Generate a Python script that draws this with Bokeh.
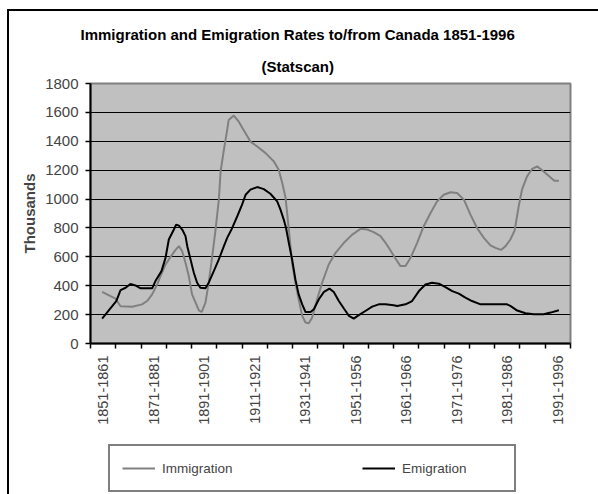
import math
from bokeh.plotting import figure
from bokeh.layouts import column
from bokeh.models import (Range1d, FixedTicker, Title, Legend, LegendItem,
                          InlineStyleSheet, ColumnDataSource)
from bokeh.embed import file_html
from bokeh.resources import INLINE

# ---- data ----
categories = ["1851-1861", "1861-1871", "1871-1881", "1881-1891", "1891-1901",
              "1901-1911", "1911-1921", "1921-1931", "1931-1941", "1941-1951",
              "1951-1956", "1956-1961", "1961-1966", "1966-1971", "1971-1976",
              "1976-1981", "1981-1986", "1986-1991", "1991-1996"]

# positions are measured in category widths from the left edge of the axis
immigration_pos = [0.46, 0.99, 1.19, 1.65, 2.04, 2.24, 2.44, 2.64, 2.77, 2.97, 3.17, 3.36,
                   3.50, 3.63, 3.76, 3.89, 4.02, 4.16, 4.29, 4.40, 4.55, 4.68, 4.82, 4.95,
                   5.08, 5.15, 5.28, 5.41, 5.47, 5.67, 5.87, 6.02, 6.33, 6.60, 6.93, 7.26,
                   7.45, 7.59, 7.72, 7.85, 7.98, 8.11, 8.24, 8.38, 8.51, 8.64, 8.77, 8.97,
                   9.17, 9.43, 9.70, 10.03, 10.36, 10.69, 10.95, 11.21, 11.48, 11.68, 11.87,
                   12.07, 12.27, 12.47, 12.67, 12.93, 13.19, 13.46, 13.72, 13.98, 14.25,
                   14.51, 14.78, 15.04, 15.30, 15.57, 15.83, 16.03, 16.25, 16.43, 16.62,
                   16.79, 16.95, 17.08, 17.28, 17.48, 17.68, 17.94, 18.21, 18.36, 18.54]
immigration_thousands = [357, 310, 258, 255, 271, 294, 340, 409, 467, 547, 600, 646,
                         674, 639, 559, 467, 340, 283, 230, 218, 283, 421, 605, 789,
                         996, 1191, 1341, 1479, 1548, 1578, 1536, 1490, 1398, 1364, 1318, 1260,
                         1203, 1111, 1010, 790, 559, 421, 306, 191, 145, 140, 179, 306,
                         421, 547, 628, 697, 754, 794, 789, 771, 743, 697, 645,
                         588, 536, 536, 593, 697, 812, 904, 984, 1030, 1047,
                         1042, 996, 892, 800, 731, 679, 662, 648, 674, 720,
                         783, 950, 1065, 1157, 1208, 1226, 1191, 1150, 1127, 1127]

emigration_pos = [0.46, 1.02, 1.19, 1.39, 1.58, 1.78, 1.98, 2.44, 2.57, 2.81, 2.97, 3.10,
                  3.30, 3.39, 3.50, 3.63, 3.76, 3.83, 3.96, 4.09, 4.22, 4.35, 4.55, 4.68,
                  4.88, 5.08, 5.28, 5.41, 5.61, 5.81, 6.00, 6.14, 6.33, 6.60, 6.86, 7.12,
                  7.39, 7.52, 7.65, 7.74, 7.85, 7.98, 8.11, 8.24, 8.38, 8.51, 8.71, 8.84,
                  9.04, 9.24, 9.46, 9.63, 9.83, 10.03, 10.23, 10.42, 10.62, 10.88, 11.15,
                  11.41, 11.68, 12.00, 12.14, 12.47, 12.73, 13.00, 13.26, 13.52, 13.79,
                  14.05, 14.32, 14.58, 14.84, 15.10, 15.44, 15.83, 16.23, 16.49, 16.62,
                  16.89, 17.22, 17.55, 17.94, 18.21, 18.54]
emigration_thousands = [172, 294, 370, 386, 412, 402, 382, 382, 432, 501, 593, 720,
                        789, 823, 816, 789, 743, 674, 582, 490, 421, 386, 382, 421,
                        501, 582, 674, 731, 800, 881, 961, 1030, 1065, 1083, 1069, 1037,
                        984, 927, 858, 800, 697, 582, 444, 340, 271, 218, 218, 237,
                        306, 357, 380, 357, 294, 242, 191, 172, 196, 225, 255,
                        271, 271, 265, 260, 271, 294, 363, 409, 421, 414,
                        391, 363, 345, 317, 294, 271, 271, 271, 271, 260,
                        228, 209, 202, 202, 214, 230]

y_ticks = [0, 200, 400, 600, 800, 1000, 1200, 1400, 1600, 1800]
title_text = "Immigration and Emigration Rates to/from Canada 1851-1996"
subtitle_text = "(Statscan)"
y_label = "Thousands"
series_names = ["Immigration", "Emigration"]

FONT = "Liberation Sans"

imm_src = ColumnDataSource(dict(x=immigration_pos, y=immigration_thousands))
emi_src = ColumnDataSource(dict(x=emigration_pos, y=emigration_thousands))

# ---------------- main chart ----------------
p = figure(width=598, height=444, output_backend="svg", toolbar_location=None,
           x_range=Range1d(0, len(categories)), y_range=Range1d(y_ticks[0], y_ticks[-1]),
           min_border_left=90, min_border_right=28, min_border_top=83, min_border_bottom=101,
           title=None)
# chart-area frame (left and top edges visible in the reference)
p.stylesheets = [InlineStyleSheet(css=(
    ":host { background-color: white;"
    " background-image: linear-gradient(#000,#000), linear-gradient(#000,#000);"
    " background-position: 7px 9px, 7px 9px;"
    " background-size: 2px 600px, 700px 2px;"
    " background-repeat: no-repeat; }"))]

p.background_fill_color = "#C0C0C0"
p.border_fill_color = "white"
p.border_fill_alpha = 0
p.outline_line_color = "#808080"
p.outline_line_width = 2

# titles (first added sits closest to the plot)
sub = Title(text=subtitle_text, align="left", offset=171, standoff=17,
            text_font=FONT, text_font_size="15px", text_font_style="bold", text_color="black")
main = Title(text=title_text, align="left", offset=-10, standoff=10,
             text_font=FONT, text_font_size="15px", text_font_style="bold", text_color="black")
p.add_layout(sub, "above")
p.add_layout(main, "above")

# y axis
p.yaxis.ticker = FixedTicker(ticks=y_ticks)
p.yaxis.axis_label = y_label
p.yaxis.axis_label_text_font = FONT
p.yaxis.axis_label_text_font_size = "15px"
p.yaxis.axis_label_text_font_style = "bold"
p.yaxis.axis_label_standoff = 4
p.yaxis.major_label_text_font = FONT
p.yaxis.major_label_text_font_size = "15px"
p.yaxis.major_label_standoff = 7
p.yaxis.axis_line_color = "black"
p.yaxis.axis_line_width = 2
p.yaxis.major_tick_out = 5
p.yaxis.major_tick_in = 0
p.yaxis.major_tick_line_width = 1.5
p.yaxis.minor_tick_line_color = None

# x axis: boundaries as tick marks, every other category labelled
label_ticks = [i + 0.5 for i in range(0, len(categories), 2)]
p.xaxis.ticker = FixedTicker(ticks=label_ticks, minor_ticks=list(range(len(categories) + 1)))
p.xaxis.major_label_overrides = {i + 0.5: categories[i] for i in range(0, len(categories), 2)}
p.xaxis.major_label_orientation = math.pi / 2
p.xaxis.major_label_text_font = FONT
p.xaxis.major_label_text_font_size = "14.5px"
p.xaxis.major_label_standoff = 7
p.xaxis.major_tick_out = 0
p.xaxis.major_tick_in = 0
p.xaxis.minor_tick_out = 5
p.xaxis.minor_tick_in = 0
p.xaxis.minor_tick_line_color = "black"
p.xaxis.minor_tick_line_width = 1.5
p.xaxis.axis_line_color = "black"
p.xaxis.axis_line_width = 2

p.xgrid.grid_line_color = None
p.ygrid.grid_line_color = "black"
p.ygrid.grid_line_width = 1

p.line("x", "y", source=imm_src, line_color="#808080", line_width=2)
p.line("x", "y", source=emi_src, line_color="black", line_width=2)

# ---------------- legend strip below the chart ----------------
# same side borders as the main chart so the two frames line up
lg = figure(width=598, height=50, output_backend="svg", toolbar_location=None,
            x_range=Range1d(0, len(categories)), y_range=Range1d(-2, -1),
            x_axis_location=None, y_axis_location=None,
            min_border_left=90, min_border_right=28, min_border_top=0, min_border_bottom=0)
lg.stylesheets = [InlineStyleSheet(css=(
    ":host { background-color: white;"
    " background-image: linear-gradient(#000,#000);"
    " background-position: 7px 0px; background-size: 2px 100px;"
    " background-repeat: no-repeat; }"))]
lg.background_fill_alpha = 0
lg.border_fill_alpha = 0
lg.outline_line_color = None
lg.grid.grid_line_color = None
# same series; the y range keeps them out of view so only the legend keys show
k_imm = lg.line("x", "y", source=imm_src, line_color="#808080", line_width=2)
k_emi = lg.line("x", "y", source=emi_src, line_color="black", line_width=2)

legend = Legend(items=[LegendItem(label=series_names[0], renderers=[k_imm]),
                       LegendItem(label=series_names[1], renderers=[k_emi])],
                orientation="horizontal", location=(18, 2),
                padding=12, spacing=100, margin=0,
                glyph_width=33, glyph_height=20, label_height=20, label_width=100,
                label_standoff=7,
                label_text_font=FONT, label_text_font_size="13.5px",
                border_line_color="black", border_line_width=2,
                background_fill_color="white", background_fill_alpha=1)
lg.add_layout(legend, "center")

layout = column(p, lg, spacing=0)
open("out.html", "w").write(file_html(layout, INLINE))
